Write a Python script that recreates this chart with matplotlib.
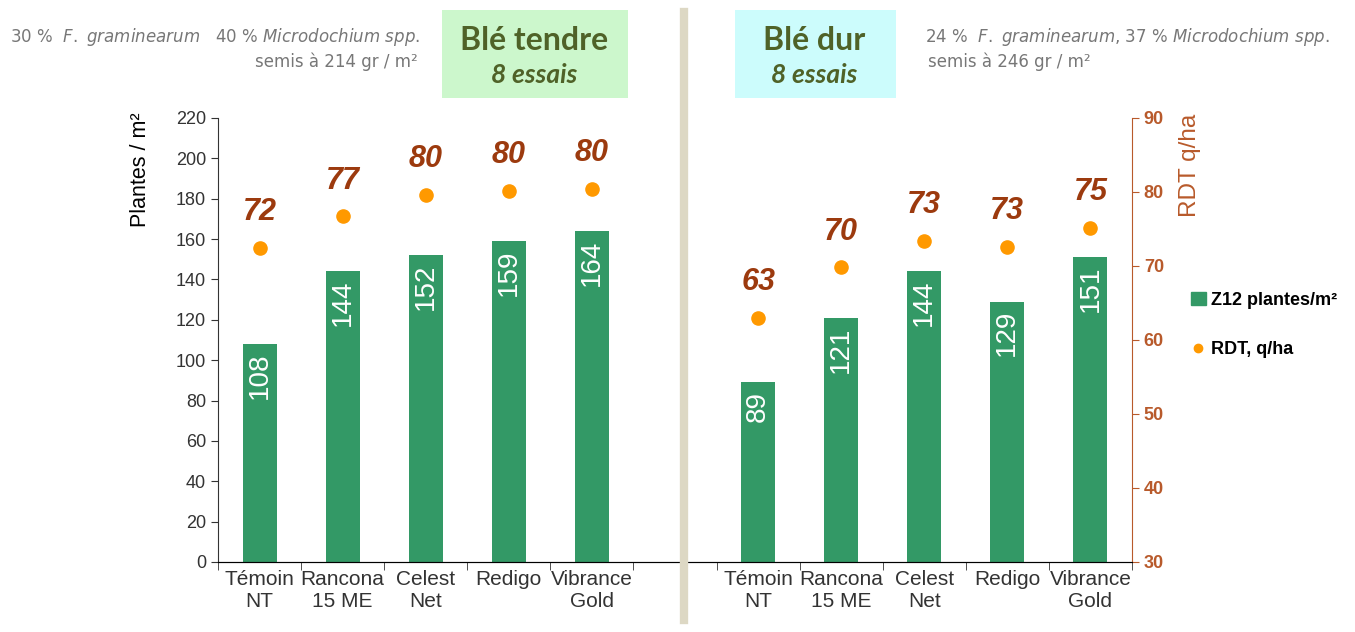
import numpy as np
import matplotlib.pyplot as plt
from matplotlib.lines import Line2D
from matplotlib.patches import Patch

plt.rcParams['font.family'] = ['Liberation Sans', 'DejaVu Sans']

# données
produits = ['Témoin\nNT', 'Rancona\n15 ME', 'Celest\nNet', 'Redigo', 'Vibrance\nGold']
plantes_tendre = [108, 144, 152, 159, 164]
plantes_dur = [89, 121, 144, 129, 151]
rdt_tendre = [72.4, 76.7, 79.6, 80.2, 80.4]
rdt_dur = [63.0, 69.8, 73.4, 72.6, 75.2]

vert = '#339966'
orange = '#FF9900'
brun = '#9C3A0E'
brun_axe = '#B85A2B'

x_tendre = np.arange(5)
x_dur = np.arange(6, 11)
x_all = np.concatenate([x_tendre, x_dur])
plantes = plantes_tendre + plantes_dur
rdt = rdt_tendre + rdt_dur

fig = plt.figure(figsize=(13.55, 6.32), dpi=100)
ax = fig.add_axes([218/1355, 1-562/632, (1132-218)/1355, (562-118)/632])
ax2 = ax.twinx()

ax.bar(x_all, plantes, width=0.41, color=vert, zorder=2)
for xi, v in zip(x_all, plantes):
    ax.annotate(str(v), (xi, v), xytext=(0, -6), textcoords='offset points',
                ha='center', va='top', rotation=90, color='white', fontsize=20)

ax2.scatter(x_all, rdt, s=90, color=orange, zorder=3)
for xi, v in zip(x_all, rdt):
    ax2.annotate(f'{round(v):d}', (xi, v), xytext=(0, 20), textcoords='offset points',
                 ha='center', va='baseline', color=brun, fontsize=22,
                 fontweight='bold', fontstyle='italic')

ax.set_xlim(-0.5, 10.5)
ax.set_ylim(0, 220)
ax.set_yticks(np.arange(0, 221, 20))
ax2.set_ylim(30, 90)
ax2.set_yticks(np.arange(30, 91, 10))

ax.set_xticks(x_all)
ax.set_xticklabels(produits * 2, fontsize=15, color='#333333', linespacing=1.15)
ax.set_xticks(np.arange(-0.5, 10.6, 1), minor=True)
ax.tick_params(axis='x', which='major', length=0, pad=6)
ax.tick_params(axis='x', which='minor', length=6, color='#333333', direction='out')
ax.tick_params(axis='y', labelsize=13, labelcolor='#333333', length=5, color='#333333')
ax2.tick_params(axis='y', labelsize=13, labelcolor=brun_axe, length=5, color=brun_axe)
for t in ax2.get_yticklabels():
    t.set_fontweight('bold')

for a in (ax, ax2):
    a.spines['top'].set_visible(False)
ax.spines['right'].set_visible(False)
ax2.spines['left'].set_visible(False)
ax2.spines['right'].set_color(brun_axe)
ax.spines['left'].set_color('#333333')
ax.spines['bottom'].set_color('#333333')

# titres des axes, en haut
fig.text(140/1355, 1-170/632, 'Plantes / m²', rotation=90, ha='center', va='center',
         fontsize=15.5, color='black')
fig.text(1190/1355, 1-165/632, 'RDT q/ha', rotation=90, ha='center', va='center',
         fontsize=17.5, color=brun_axe)

# légende
handles = [Patch(color=vert), Line2D([], [], marker='o', ls='', color=orange, markersize=6)]
fig.legend(handles, ['Z12 plantes/m²', 'RDT, q/ha'], loc='center left',
           bbox_to_anchor=(1175/1355, 1-325/632), frameon=False,
           prop={'weight': 'bold', 'size': 13}, labelspacing=1.8,
           handlelength=0.8, handletextpad=0.3)

# séparateur
fig.add_artist(Line2D([684/1355, 684/1355], [1-12/632, 1-620/632],
                      color='#DDD8C4', lw=6, transform=fig.transFigure))

# encadrés
fig.patches.append(plt.Rectangle((442/1355, 1-98/632), 186/1355, 88/632,
                                 transform=fig.transFigure, fc='#CCF7CC', ec='none', zorder=0))
fig.patches.append(plt.Rectangle((735/1355, 1-98/632), 161/1355, 88/632,
                                 transform=fig.transFigure, fc='#CCFCFC', ec='none', zorder=0))
titre = dict(ha='center', va='baseline', fontsize=23, fontweight='bold',
             color='#4F6228', family='Lato')
sous_titre = dict(ha='center', va='baseline', fontsize=19, fontweight='bold',
                  fontstyle='italic', color='#4F6228', family='Lato')
fig.text(534/1355, 1-50/632, 'Blé tendre', **titre)
fig.text(534/1355, 1-83/632, '8 essais', **sous_titre)
fig.text(814/1355, 1-50/632, 'Blé dur', **titre)
fig.text(814/1355, 1-83/632, '8 essais', **sous_titre)

# notes
gris = '#777777'
note = dict(va='baseline', fontsize=12, color=gris, family='DejaVu Sans')
fig.text(10/1355, 1-42/632, '30 %  $\\it{F.\\ graminearum}$   40 % $\\it{Microdochium\\ spp.}$',
         ha='left', **note)
fig.text(418/1355, 1-67/632, 'semis à 214 gr / m²', ha='right', **note)
fig.text(925/1355, 1-42/632, '24 %  $\\it{F.\\ graminearum}$, 37 % $\\it{Microdochium\\ spp.}$',
         ha='left', **note)
fig.text(928/1355, 1-67/632, 'semis à 246 gr / m²', ha='left', **note)

fig.savefig('out.png', dpi=100)
